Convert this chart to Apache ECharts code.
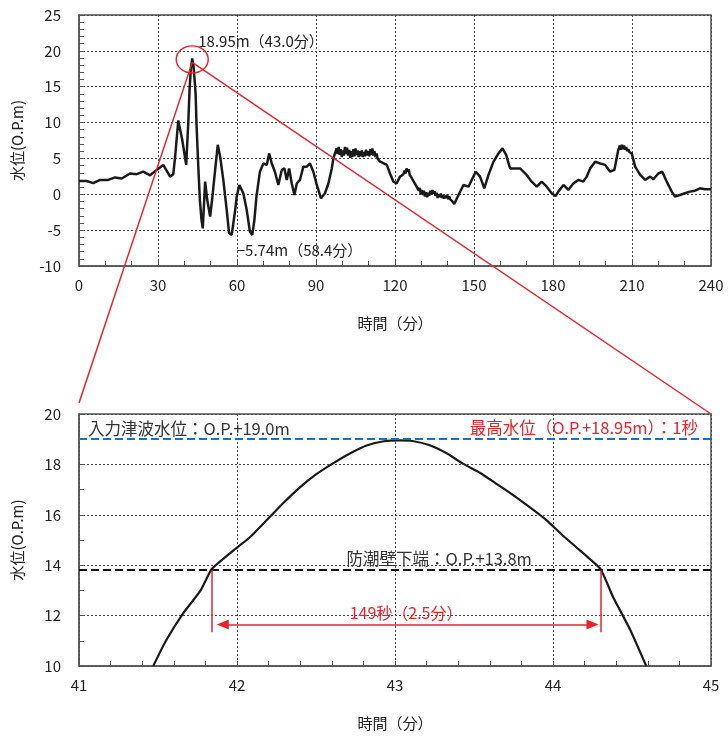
<!DOCTYPE html>
<html>
<head>
<meta charset="utf-8">
<script src="https://cdn.jsdelivr.net/npm/echarts@6/dist/echarts.min.js"></script>
<style>
  html, body { margin: 0; background: #fff; }
  #chart { width: 728px; height: 740px; }
</style>
</head>
<body>
<div id="chart"></div>
<script>
const FONT = '"Noto Sans CJK JP", "Noto Sans", sans-serif'
const RED = '#e8232b'

// whole record (top chart): minutes / level O.P.m
const fullTime = [
  0, 2.9, 5.4, 8.0, 11.1, 13.7, 16.2, 19.4, 21.9, 24.4, 27.0, 29.5, 32.0, 34.6, 35.8, 36.5, 37.7, 39.2, 40.7,
  41.5, 42.0, 42.5, 43.0, 43.5, 44.0, 44.3, 44.6, 45.3, 45.9, 46.5, 47.0, 47.9, 48.7, 49.8, 50.6, 51.7, 52.7,
  53.6, 54.8, 56.1, 57.0, 58.0, 58.4, 59.3, 59.9, 60.9, 61.8, 62.4, 63.7, 64.9, 65.8, 66.6, 67.4, 68.7, 70.0,
  71.3, 72.2, 73.2, 74.4, 75.7, 77.0, 78.0, 78.9, 79.8, 80.8, 81.8, 82.7, 83.9, 85.2, 86.5, 87.7, 89.0, 90.3,
  91.9, 93.4, 94.7, 96.0, 96.6, 97.8,
  98.2, 98.6, 99.0, 99.4, 99.8, 100.2, 100.6, 101.0, 101.4, 101.8, 102.2, 102.6, 103.0, 103.4, 103.8, 104.2,
  104.6, 105.0, 105.4, 105.8, 106.2, 106.6, 107.0, 107.4, 107.8, 108.2, 108.6, 109.0, 109.4, 109.8, 110.2,
  110.6, 111.0, 111.4, 111.8, 112.2, 112.6, 113.0, 113.4, 113.8, 114.2, 114.9,
  116.9, 118.1, 119.4, 120.6, 121.9, 122.5, 123.2, 123.6, 124.0, 124.4, 124.8, 125.2, 125.6, 126.0, 126.3,
  126.8, 128.2, 128.6, 129.0, 129.4, 129.8, 130.2, 130.6, 131.0, 131.4, 131.8, 132.2, 132.6, 133.0, 133.4,
  133.8, 134.2, 134.6, 135.0, 135.4, 135.8, 136.2, 136.6, 137.0, 137.4, 137.8, 138.2, 138.6, 139.0, 139.4,
  139.8, 140.2, 140.6, 141.0, 141.4, 141.8, 142.5,
  144.1, 146.0, 147.9, 149.4, 150.7, 152.3, 153.9, 155.5, 157.4, 159.3, 160.8, 162.2, 163.7, 165.6, 167.5,
  170.0, 171.9, 173.8, 175.7, 177.6, 179.5, 181.0, 182.0, 184.0, 185.8, 187.7, 189.6, 191.5, 192.8, 194.1,
  196.0, 197.9, 199.8, 201.7, 203.3, 204.8, 205.4, 205.8, 206.2, 206.6, 207.0, 207.4, 207.8, 208.2, 208.6,
  209.0, 209.9, 211.2, 213.1, 215.0, 216.9, 218.1, 220.0, 221.5, 223.2, 225.1, 226.3, 228.2, 230.1, 232.0,
  233.9, 235.8, 237.7, 240
]
const fullLevel = [
  1.85, 1.85, 1.55, 2.0, 2.0, 2.35, 2.2, 2.9, 2.8, 3.15, 2.65, 3.4, 4.1, 2.45, 2.8, 5.2, 10.3, 7.6, 4.1,
  10.0, 14.7, 17.6, 18.95, 17.8, 15.5, 13.9, 10.0, 3.85, -0.8, -3.5, -4.75, 1.76, -0.8, -3.1, -0.56, 3.4, 6.9,
  5.25, 2.0, -2.2, -5.4, -5.67, -5.74, -2.2, -0.3, 1.3, 0.6, 0.14, -2.2, -5.2, -5.67, -3.6, -0.3, 3.15, 4.3,
  4.1, 5.7, 4.3, 3.15, 1.3, 3.4, 3.6, 2.0, 3.6, 1.5, -0.1, 1.5, 2.0, 3.85, 3.85, 4.3, 3.15, 1.3,
  -0.56, 0.14, 1.5, 3.6, 5.0, 6.4,
  5.6, 6.6, 5.5, 6.3, 5.2, 6.1, 5.4, 6.6, 5.6, 6.5, 5.4, 6.2, 5.1, 6.0, 5.2, 6.3,
  5.3, 6.4, 5.5, 6.1, 5.2, 6.0, 5.3, 6.1, 5.2, 5.9, 5.3, 6.2, 5.4, 6.0, 5.3,
  6.3, 5.5, 6.4, 5.4, 6.0, 5.2, 5.7, 5.0, 5.2, 4.6, 4.55,
  4.1, 2.9, 1.76, 1.5, 2.46, 2.7, 2.8, 3.3, 2.9, 3.6, 3.2, 3.5, 2.7, 2.9, 2.3,
  2.3, 1.06, 1.2, 0.5, 0.9, 0.0, 0.6, -0.1, 0.5, -0.3, 0.3, -0.4, 0.2, -0.2, 0.5,
  0.0, 0.6, 0.1, 0.4, -0.2, 0.2, -0.5, 0.0, -0.4, 0.1, -0.5, -0.1, -0.6, -0.2, -0.5,
  -0.1, -0.7, -0.3, -0.7, -0.5, -1.0, -1.35,
  -0.1, 1.3, 1.06, 2.2, 3.15, 2.46, 0.84, 2.7, 4.55, 5.7, 6.4, 5.5, 3.6, 3.6, 3.6,
  2.7, 1.76, 1.06, 1.76, 1.06, 0.14, -0.24, 0.37, 1.3, 0.6, 1.5, 2.0, 1.76, 2.46, 3.6,
  4.55, 4.3, 4.1, 3.15, 3.4, 6.2, 6.8, 6.2, 6.9, 6.3, 6.8, 6.2, 6.6, 6.0, 6.3,
  5.9, 5.7, 3.85, 2.7, 2.0, 2.46, 2.1, 2.9, 3.15, 1.76, 0.37, -0.33, -0.1, 0.14, 0.37,
  0.5, 0.84, 0.7, 0.7
]
const peakPoint = [43.0, 18.95]
const troughPoint = [58.4, -5.74]

// enlarged view around the peak (bottom chart)
const zoomTime = [
  41.47, 41.55, 41.66, 41.77, 41.84, 41.98, 42.08, 42.19, 42.29, 42.40, 42.50, 42.61, 42.72, 42.82, 42.93,
  43.03, 43.11, 43.22, 43.33, 43.43, 43.54, 43.64, 43.75, 43.85, 43.96, 44.06, 44.17, 44.30, 44.38, 44.49, 44.59
]
const zoomLevel = [
  10.0, 11.0, 12.1, 13.0, 13.85, 14.6, 15.1, 15.8, 16.45, 17.1, 17.6, 18.05, 18.45, 18.75, 18.92,
  18.95, 18.93, 18.76, 18.43, 18.03, 17.66, 17.24, 16.77, 16.31, 15.78, 15.19, 14.59, 13.85, 12.74, 11.42, 10.0
]
const inputLevel = 19.0
const wallBottom = 13.8
const overStart = 41.84
const overEnd = 44.30
const arrowLevel = 11.65
const tickBottom = 11.34

const chart = echarts.init(document.getElementById('chart'))

function axisCommon(extra) {
  return Object.assign({
    type: 'value',
    axisLine: { show: true, onZero: false, lineStyle: { color: '#555', width: 1.5 } },
    axisTick: { show: true, inside: true, length: 5, lineStyle: { color: '#555' } },
    splitLine: { show: true, lineStyle: { color: '#444', type: [2, 2], width: 1 } },
    nameLocation: 'middle',
    nameTextStyle: { color: '#222', fontSize: 15, fontFamily: FONT }
  }, extra)
}

const option = {
  animation: false,
  grid: [
    { left: 79, top: 15, width: 632, height: 251, show: true, borderColor: '#555', borderWidth: 1.5 },
    { left: 79, top: 414, width: 632, height: 252, show: true, borderColor: '#555', borderWidth: 1.5 }
  ],
  xAxis: [
    axisCommon({ gridIndex: 0, min: 0, max: 240, interval: 30, minorTick: { show: true, splitNumber: 3, length: 5, lineStyle: { color: '#555' } },
      name: '時間（分）', nameGap: 50, axisLabel: { color: '#222', fontSize: 15, fontFamily: FONT, margin: 12 } }),
    axisCommon({ gridIndex: 1, min: 41, max: 45, interval: 1, minorTick: { show: true, splitNumber: 5, length: 5, lineStyle: { color: '#555' } },
      name: '時間（分）', nameGap: 50, axisLabel: { color: '#222', fontSize: 15, fontFamily: FONT, margin: 12 } })
  ],
  yAxis: [
    axisCommon({ gridIndex: 0, min: -10, max: 25, interval: 5, minorTick: { show: true, splitNumber: 5, length: 5, lineStyle: { color: '#555' } },
      name: '水位(O.P.m)', nameGap: 54, axisLabel: { color: '#222', fontSize: 15, fontFamily: FONT, margin: 18 } }),
    axisCommon({ gridIndex: 1, min: 10, max: 20, interval: 2, minorTick: { show: true, splitNumber: 2, length: 5, lineStyle: { color: '#555' } },
      name: '水位(O.P.m)', nameGap: 54, axisLabel: { color: '#222', fontSize: 15, fontFamily: FONT, margin: 18 } })
  ],
  series: [
    {
      type: 'line', xAxisIndex: 0, yAxisIndex: 0, silent: true,
      data: fullTime.map((t, i) => [t, fullLevel[i]]),
      showSymbol: false, lineStyle: { color: '#1a1a1a', width: 2.5 }
    },
    {
      type: 'line', xAxisIndex: 1, yAxisIndex: 1, silent: true,
      data: zoomTime.map((t, i) => [t, zoomLevel[i]]),
      showSymbol: false, smooth: 0.15, lineStyle: { color: '#1a1a1a', width: 2.2 },
      markLine: {
        silent: true, symbol: 'none', label: { show: false }, animation: false,
        data: [
          { yAxis: inputLevel, lineStyle: { color: '#1f6fbf', type: [8, 4], width: 2 } },
          { yAxis: wallBottom, lineStyle: { color: '#111', type: [8, 4], width: 2 } },
          [{ coord: [overStart, wallBottom], lineStyle: { color: RED, type: 'solid', width: 1.5 } }, { coord: [overStart, tickBottom] }],
          [{ coord: [overEnd, wallBottom], lineStyle: { color: RED, type: 'solid', width: 1.5 } }, { coord: [overEnd, tickBottom] }],
          [
            { coord: [overStart + 0.07, arrowLevel], symbol: 'triangle', symbolSize: [10, 12], lineStyle: { color: RED, type: 'solid', width: 1.5 }, itemStyle: { color: RED } },
            { coord: [overEnd - 0.05, arrowLevel], symbol: 'triangle', symbolSize: [10, 12] }
          ]
        ]
      }
    }
  ]
}
chart.setOption(option)

// annotations placed from data coordinates
const pk = chart.convertToPixel({ gridIndex: 0 }, peakPoint)
const tr = chart.convertToPixel({ gridIndex: 0 }, troughPoint)
const zl = chart.convertToPixel({ gridIndex: 1 }, [41, 20])
const zr = chart.convertToPixel({ gridIndex: 1 }, [45, 20])
const inP = chart.convertToPixel({ gridIndex: 1 }, [41, inputLevel])
const rightP = chart.convertToPixel({ gridIndex: 1 }, [45, inputLevel])
const wallP = chart.convertToPixel({ gridIndex: 1 }, [43.28, wallBottom])
const spanP = chart.convertToPixel({ gridIndex: 1 }, [(overStart + overEnd) / 2, arrowLevel])

function label(x, y, text, color, align, size) {
  return {
    type: 'text', x: x, y: y, silent: true, z: 10,
    style: { text: text, fill: color, font: size + 'px ' + FONT, align: align, textAlign: align, verticalAlign: 'middle', textVerticalAlign: 'middle' }
  }
}

chart.setOption({
  graphic: [
    { type: 'line', silent: true, z: 9, shape: { x1: pk[0], y1: pk[1] + 4, x2: zl[0], y2: zl[1] - 11 }, style: { stroke: RED, lineWidth: 1.5 } },
    { type: 'line', silent: true, z: 9, shape: { x1: pk[0], y1: pk[1] + 4, x2: zr[0], y2: zr[1] }, style: { stroke: RED, lineWidth: 1.5 } },
    { type: 'circle', silent: true, z: 9, x: pk[0], y: pk[1] + 1, scaleY: 0.85, shape: { cx: 0, cy: 0, r: 16 }, style: { fill: 'none', stroke: RED, lineWidth: 1.5 } },
    label(pk[0] + 6, pk[1] - 17, '18.95m（43.0分）', '#222', 'left', 15),
    label(tr[0] + 4, tr[1] + 15, '−5.74m（58.4分）', '#222', 'left', 15),
    label(inP[0] + 9, inP[1] - 10, '入力津波水位：O.P.+19.0m', '#333', 'left', 16.5),
    label(rightP[0] - 13, rightP[1] - 11, '最高水位（O.P.+18.95m）：1秒', RED, 'right', 16.5),
    label(wallP[0], wallP[1] - 12, '防潮壁下端：O.P.+13.8m', '#333', 'center', 16.5),
    label(spanP[0], spanP[1] - 11, '149秒（2.5分）', RED, 'center', 16)
  ]
})
</script>
</body>
</html>
